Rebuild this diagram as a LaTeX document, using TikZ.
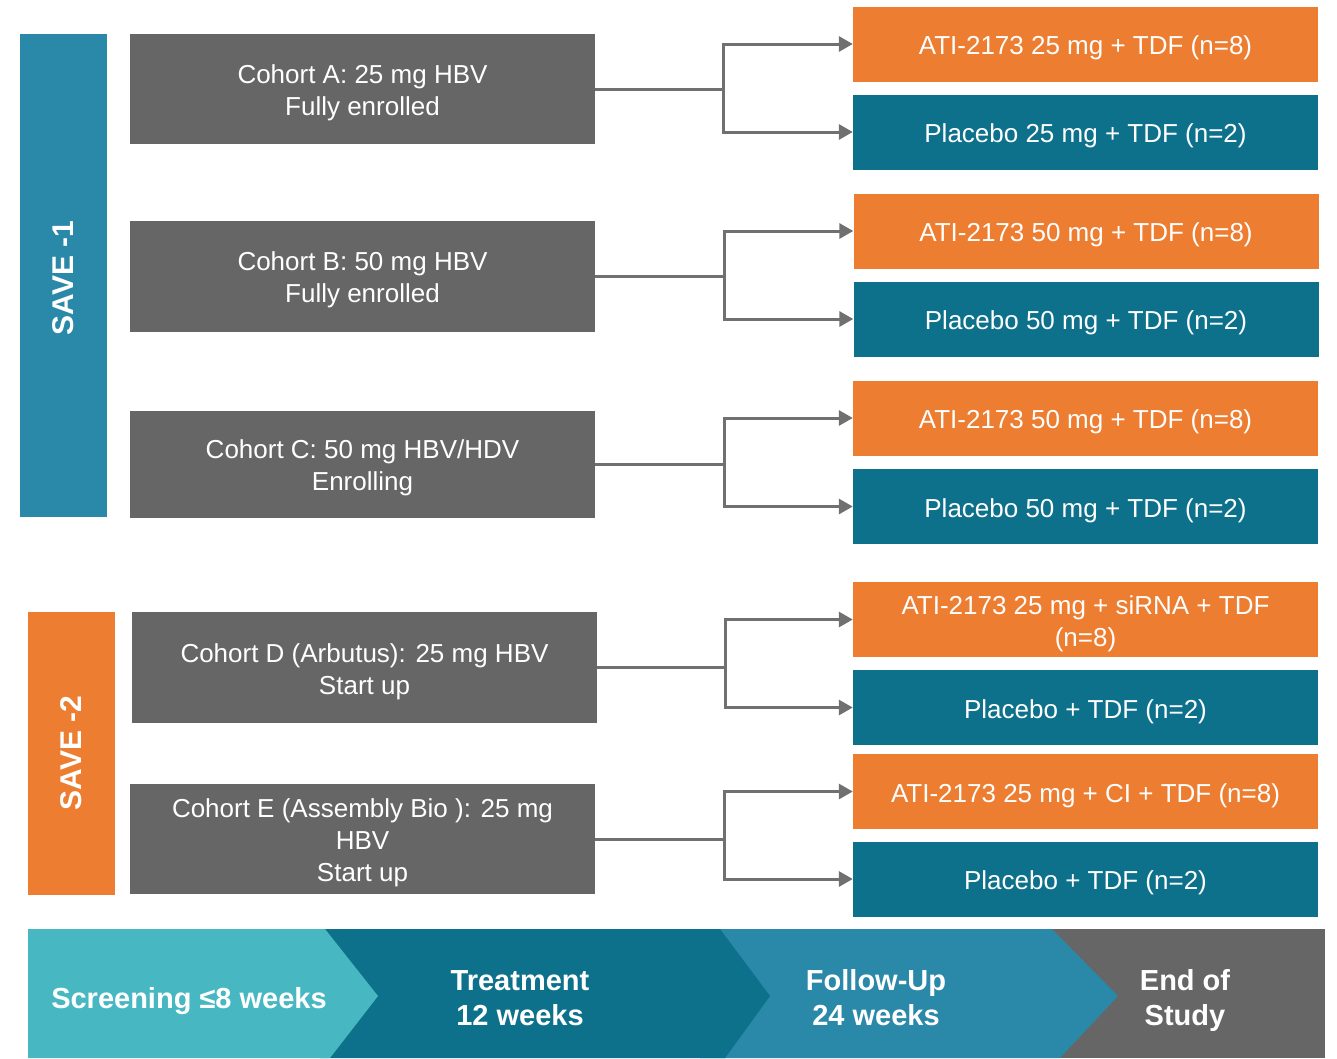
\documentclass[tikz,border=0pt]{standalone}
\usepackage{fontspec}
\setmainfont{Liberation Sans}
\usetikzlibrary{arrows.meta,calc}
\definecolor{cgray}{HTML}{666666}
\definecolor{corange}{HTML}{ED7D31}
\definecolor{cteal}{HTML}{0E718B}
\definecolor{cblue}{HTML}{2A88A8}
\definecolor{clight}{HTML}{47B8C2}
\definecolor{cline}{HTML}{707070}
\newcommand{\pushdown}{\rule{0pt}{27pt}}
\begin{document}
\begin{tikzpicture}[x=1pt,y=-1pt,
  box/.style={draw=none,text=white,align=center,font=\fontsize{26}{32}\selectfont,inner sep=0pt,execute at begin node=\pushdown},
  cohort/.style={box,fill=cgray,minimum width=465pt},
  armo/.style={box,fill=corange,minimum width=465pt,minimum height=75pt},
  armt/.style={box,fill=cteal,minimum width=465pt,minimum height=75pt},
  save/.style={text=white,font=\fontsize{30}{36}\selectfont\bfseries,rotate=90},
  conn/.style={draw=cline,line width=3pt,-{Triangle[length=14pt,width=15pt]}},
  plain/.style={draw=cline,line width=3pt},
  phase/.style={text=white,align=center,font=\fontsize{29}{35}\selectfont\bfseries}]
\useasboundingbox (0,0) rectangle (1337,1058);
\fill[white] (0,0) rectangle (1337,1058);

% SAVE bars
\fill[cblue] (20,34) rectangle (107,517);
\node[save] (s1) at (63.5,278) {SAVE -1};
\fill[corange] (28,612) rectangle (115,895);
\node[save] (s2) at (71.5,753) {SAVE -2};

% cohorts
\node[cohort,minimum height=110pt] (cA) at (362.5,89) {\pushdown Cohort A: 25 mg HBV\\Fully enrolled};
\node[cohort,minimum height=111pt] (cB) at (362.5,276) {\pushdown Cohort B: 50 mg HBV\\Fully enrolled};
\node[cohort,minimum height=107pt] (cC) at (362.5,464) {\pushdown Cohort C: 50 mg HBV/HDV\\Enrolling};
\node[cohort,minimum height=111pt] (cD) at (364.5,667.5) {\pushdown Cohort D (Arbutus): 25 mg HBV\\Start up};
\node[cohort,minimum height=110pt] (cE) at (362.5,839) {\pushdown Cohort E (Assembly Bio ): 25 mg\\HBV\\Start up};

% arms
\node[armo] (a1) at (1085.5,44) {ATI-2173 25 mg + TDF (n=8)};
\node[armt] (a2) at (1085.5,132) {Placebo 25 mg + TDF (n=2)};
\node[armo] (b1) at (1086,231) {ATI-2173 50 mg + TDF (n=8)};
\node[armt] (b2) at (1086,319) {Placebo 50 mg + TDF (n=2)};
\node[armo] (c1) at (1085.5,418) {ATI-2173 50 mg + TDF (n=8)};
\node[armt] (c2) at (1085.5,506.5) {Placebo 50 mg + TDF (n=2)};
\node[armo] (d1) at (1085.5,619.5) {\pushdown ATI-2173 25 mg + siRNA + TDF\\(n=8)};
\node[armt] (d2) at (1085.5,707.5) {Placebo + TDF (n=2)};
\node[armo] (e1) at (1085.5,791.5) {ATI-2173 25 mg + CI + TDF (n=8)};
\node[armt] (e2) at (1085.5,879) {Placebo + TDF (n=2)};

% connectors
\coordinate (jA) at (723,89);
\coordinate (jB) at (724,276);
\coordinate (jC) at (724,464);
\coordinate (jD) at (725,667.5);
\coordinate (jE) at (724,839);
\foreach \c/\j/\u/\l in {cA/jA/a1/a2,cB/jB/b1/b2,cC/jC/c1/c2,cD/jD/d1/d2,cE/jE/e1/e2}{
  \draw[plain] (\c.east) -- (\j);
  \draw[conn] (\j) |- (\u.west);
  \draw[conn] (\j) |- (\l.west);
}

% phase chevrons
\fill[cgray] (1000,929) -- (1325,929) -- (1325,1058) -- (1000,1058) -- cycle;
\fill[cblue] (700,929) -- (1052,929) -- (1118,996) -- (1060,1058) -- (700,1058) -- cycle;
\fill[cteal] (320,929) -- (720,929) -- (770,996) -- (725,1058) -- (320,1058) -- cycle;
\fill[clight] (28,929) -- (325,929) -- (378,996) -- (330,1058) -- (28,1058) -- cycle;
\node[phase] (p1) at (189,1001) {Screening ≤8 weeks};
\node[phase] (p2) at (520,998) {Treatment\\12 weeks};
\node[phase] (p3) at (876,998) {Follow-Up\\24 weeks};
\node[phase] (p4) at (1185,1000) {End of\\Study};
\end{tikzpicture}
\end{document}
